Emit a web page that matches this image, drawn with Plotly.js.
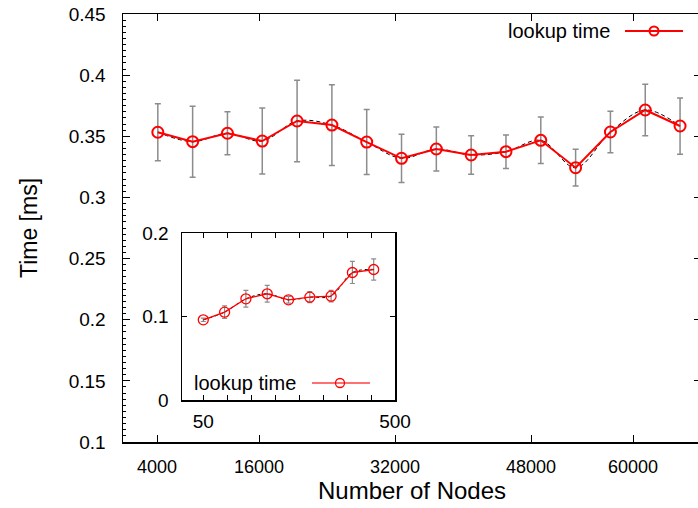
<!DOCTYPE html>
<html><head><meta charset="utf-8">
<script src="https://cdn.plot.ly/plotly-3.0.1.min.js"></script>
<style>html,body{margin:0;padding:0;overflow:hidden;background:#fff}</style>
</head><body><div id="chart" style="width:701px;height:508px"></div>
<script>
// main series: lookup time vs number of nodes
const nodes = [4096, 8192, 12288, 16384, 20480, 24576, 28672, 32768, 36864, 40960, 45056, 49152, 53248, 57344, 61440, 65536];
const lookupTime = [0.3533, 0.3456, 0.3525, 0.3461, 0.3625, 0.3592, 0.3453, 0.3320, 0.3396, 0.3347, 0.3374, 0.3467, 0.3243, 0.3535, 0.3715, 0.3584];
const lookupErr = [0.0233, 0.029, 0.0176, 0.027, 0.0334, 0.033, 0.0266, 0.0197, 0.018, 0.0157, 0.0137, 0.019, 0.015, 0.017, 0.021, 0.023];
// inset series
const smallNodes = [50, 100, 150, 200, 250, 300, 350, 400, 450];
const smallTime = [0.096, 0.1052, 0.1212, 0.1272, 0.1200, 0.1232, 0.1244, 0.1527, 0.1563];
const smallErr = [0.002, 0.0076, 0.010, 0.010, 0.004, 0.0066, 0.007, 0.0132, 0.0128];
// tick labels
const mainTicks = [4000, 16000, 32000, 48000, 60000];
const insetTicks = [50, 106.25, 162.5, 218.75, 275, 331.25, 387.5, 443.75, 500];
const insetTickText = ['50', '', '', '', '', '', '', '', '500'];
const legendLabel = 'lookup time';

const W = 701, H = 508, ML = 123, MT = 14, MB = 66, MR = 0;
const PW = W - ML - MR, PH = H - MT - MB;
const px = x => (x - ML) / PW;
const py = y => (H - MB - y) / PH;

const FONT = 'Liberation Sans, Arial, sans-serif';
const RED = '#ff0000';
const ERR = '#8c8c8c';

const traces = [
  {x: nodes, y: lookupTime, mode: 'markers', marker: {size: 1, color: 'rgba(0,0,0,0)'},
   error_y: {type: 'data', array: lookupErr, visible: true, color: ERR, thickness: 1.5, width: 3},
   hoverinfo: 'skip', showlegend: false},
  {x: nodes, y: lookupTime, mode: 'lines', line: {color: '#000', width: 1, dash: '4px,3px', shape: 'spline', smoothing: 1},
   showlegend: false},
  {x: nodes, y: lookupTime, mode: 'lines+markers', line: {color: RED, width: 2},
   marker: {symbol: 'circle-open', size: 11, color: RED, line: {width: 2, color: RED}}, showlegend: false},
  {x: smallNodes, y: smallTime, xaxis: 'x2', yaxis: 'y2', mode: 'markers', marker: {size: 1, color: 'rgba(0,0,0,0)'},
   error_y: {type: 'data', array: smallErr, visible: true, color: ERR, thickness: 1.2, width: 2.5},
   hoverinfo: 'skip', showlegend: false},
  {x: smallNodes, y: smallTime, xaxis: 'x2', yaxis: 'y2', mode: 'lines', line: {color: '#000', width: 1, dash: '3px,3px', shape: 'spline', smoothing: 1},
   showlegend: false},
  {x: smallNodes, y: smallTime, xaxis: 'x2', yaxis: 'y2', mode: 'lines+markers', line: {color: RED, width: 1.3},
   marker: {symbol: 'circle-open', size: 10, color: RED, line: {width: 1.3, color: RED}}, showlegend: false}
];

const x0 = [182, 395], y0 = [400, 233];
const layout = {
  width: W, height: H,
  margin: {l: ML, r: MR, t: MT, b: MB, pad: 0},
  paper_bgcolor: '#fff', plot_bgcolor: '#fff',
  font: {family: FONT, color: '#000', size: 18},
  showlegend: false,
  xaxis: {
    range: [0, 68000], tickvals: mainTicks, ticktext: mainTicks.map(String),
    ticks: 'inside', ticklen: 7, tickwidth: 1, tickcolor: '#000',
    showline: true, linecolor: '#000', linewidth: 1.5, mirror: 'ticks',
    showgrid: false, zeroline: false, tickfont: {size: 18}, ticklabelstandoff: 8,
    title: {text: 'Number of Nodes', font: {size: 24}, standoff: 4}
  },
  yaxis: {
    range: [0.1, 0.45], dtick: 0.05, tick0: 0.1,
    ticks: 'inside', ticklen: 7, tickwidth: 1, tickcolor: '#000',
    minor: {dtick: 0.005, ticks: 'inside', ticklen: 3, tickcolor: '#000', showgrid: false},
    showline: true, linecolor: '#000', linewidth: 1.5, mirror: 'ticks',
    showgrid: false, zeroline: false, tickfont: {size: 19}, ticklabelstandoff: 12,
    title: {text: 'Time [ms]', font: {size: 23}, standoff: 24}
  },
  xaxis2: {
    domain: [px(x0[0]), px(x0[1])], anchor: 'y2', range: [0, 500],
    tickvals: insetTicks, ticktext: insetTickText,
    ticks: 'inside', ticklen: 5, tickwidth: 1, tickcolor: '#000',
    showline: true, linecolor: '#000', linewidth: 1.5, mirror: 'ticks',
    showgrid: false, zeroline: false, tickfont: {size: 19}, ticklabelstandoff: 4
  },
  yaxis2: {
    domain: [py(y0[0]), py(y0[1])], anchor: 'x2', range: [0, 0.2], tickvals: [0, 0.1, 0.2],
    ticks: 'inside', ticklen: 5, tickwidth: 1, tickcolor: '#000',
    showline: true, linecolor: '#000', linewidth: 1.5, mirror: 'ticks',
    showgrid: false, zeroline: false, tickfont: {size: 19}, ticklabelstandoff: 8
  },
  annotations: [
    {xref: 'paper', yref: 'paper', x: px(612), y: py(31), xanchor: 'right', yanchor: 'middle',
     text: legendLabel, showarrow: false, font: {size: 20}},
    {xref: 'paper', yref: 'paper', x: px(298), y: py(383), xanchor: 'right', yanchor: 'middle',
     text: legendLabel, showarrow: false, font: {size: 20}}
  ],
  shapes: [
    {type: 'line', xref: 'paper', yref: 'paper', x0: px(625), x1: px(683), y0: py(31), y1: py(31), line: {color: RED, width: 2}},
    {type: 'circle', xref: 'paper', yref: 'paper', x0: px(649.5), x1: px(658.5), y0: py(35.5), y1: py(26.5), line: {color: RED, width: 2}, fillcolor: 'rgba(0,0,0,0)'},
    {type: 'line', xref: 'paper', yref: 'paper', x0: px(312), x1: px(370), y0: py(383), y1: py(383), line: {color: '#ff4040', width: 1.3}},
    {type: 'circle', xref: 'paper', yref: 'paper', x0: px(335.5), x1: px(344.5), y0: py(387.5), y1: py(378.5), line: {color: RED, width: 1.3}, fillcolor: 'rgba(0,0,0,0)'}
  ]
};

Plotly.newPlot('chart', traces, layout, {displayModeBar: false, staticPlot: true});
</script>
</body></html>
